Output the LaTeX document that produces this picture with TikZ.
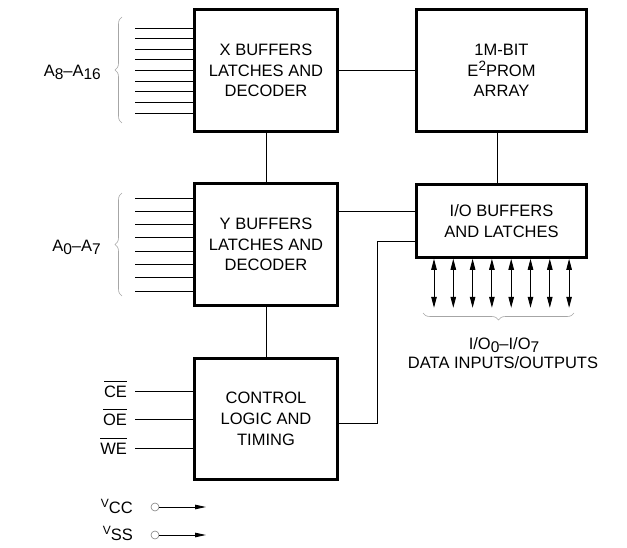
\documentclass[tikz,border=0pt]{standalone}
\usepackage{fontspec}
\setmainfont{Liberation Sans}
\usetikzlibrary{arrows.meta, positioning, calc, decorations.pathreplacing}
\newcommand{\lowsub}[1]{\raisebox{-3pt}{\fontsize{15.5}{15.5}\selectfont #1}}
\newcommand{\highsup}[1]{\raisebox{6pt}{\fontsize{13.5}{13.5}\selectfont #1}}
\newcommand{\ovl}[1]{$\overline{\mbox{\rule{0pt}{14pt}#1}}$}

\begin{document}
\begin{tikzpicture}[x=1pt, y=1pt,
  block/.style={draw, line width=2.6pt, align=center, inner sep=0pt, font=\fontsize{16.5}{20.7}\selectfont},
  wire/.style={line width=0.9pt},
  lbl/.style={font=\fontsize{16.5}{20.7}\selectfont, inner sep=0pt},
  bus/.style={draw=gray!70, line width=0.6pt, decorate, decoration={brace, amplitude=7pt}},
  pin/.style={circle, draw=gray, line width=0.6pt, minimum size=8pt, inner sep=0pt}
]
\useasboundingbox (0,0) rectangle (627,-548);

% blocks
\node[block, minimum width=143pt, minimum height=122pt] (xbuf) at (266,-70.5) {X BUFFERS\\LATCHES AND\\DECODER};
\node[block, minimum width=143pt, minimum height=122pt] (ybuf) at (266,-244.5) {Y BUFFERS\\LATCHES AND\\DECODER};
\node[block, minimum width=143pt, minimum height=121pt] (ctrl) at (266,-419) {CONTROL\\LOGIC AND\\TIMING};
\node[block, minimum width=170pt, minimum height=122pt] (array) at (501.5,-70.5) {1M-BIT\\E\highsup{2}PROM\\ARRAY};
\node[block, minimum width=170pt, minimum height=73pt] (iobuf) at (501.5,-221) {I/O BUFFERS\\AND LATCHES};

% internal connections
\draw[wire] (xbuf.east) -- (array.west);
\draw[wire] (xbuf.south) -- (ybuf.north);
\draw[wire] (ybuf.south) -- (ctrl.north);
\draw[wire] ([xshift=-4.5pt]array.south) -- ([xshift=-4.5pt]iobuf.north);
\draw[wire] ([yshift=10pt]iobuf.west) -- ([yshift=10pt]iobuf.west -| ybuf.east);
\coordinate (bend) at (377,-241);
\draw[wire] ([yshift=-4pt]ctrl.east) -| (bend) -- (bend -| iobuf.west);

% address inputs
\foreach \i in {0,...,8}
  \draw[wire] ([yshift=42.5pt-\i*10.625pt]xbuf.west) -- ++(-58,0);
\foreach \i in {0,...,7}
  \draw[wire] ([yshift=46.5pt-\i*13.286pt]ybuf.west) -- ++(-58,0);
\draw[bus] (122,-123) -- (122,-17);
\draw[bus] (122,-296) -- (122,-193);
\node[lbl, anchor=base east] (xaddr) at (101,-77) {A\lowsub{8}--A\lowsub{16}};
\node[lbl, anchor=base east] (yaddr) at (101,-251.5) {A\lowsub{0}--A\lowsub{7}};

% control inputs
\foreach \name/\dy/\txt in {ce/28/CE, oe/0/OE, we/-29/WE} {
  \coordinate (\name) at ([yshift=\dy pt]ctrl.west);
  \draw[wire] (\name) -- ++(-58,0) coordinate (\name end);
  \node[lbl, anchor=base east] at ([xshift=-8pt,yshift=-6pt]\name end) {\ovl{\txt}};
}

% data lines
\foreach \i in {0,...,7}
  \draw[wire, {Triangle[length=11pt,width=5.5pt]}-{Triangle[length=11pt,width=5.5pt]}]
    ([xshift=-67.5pt+\i*19.3pt]iobuf.south) -- ++(0,-49);
\draw[bus] (574,-313) -- (423,-313);
\node[lbl, anchor=base] (iolbl) at (504,-349) {I/O\lowsub{0}--I/O\lowsub{7}};
\node[lbl, anchor=base] (datalbl) at (503,-368) {DATA INPUTS/OUTPUTS};

% supply pins
\node[pin] (vcc) at (155,-507) {};
\node[pin] (vss) at (155,-535) {};
\coordinate (vccend) at (206,-507);
\coordinate (vssend) at (206,-535);
\draw[wire, -{Triangle[length=11pt,width=4.5pt]}] (vcc) -- (vccend);
\draw[wire, -{Triangle[length=11pt,width=4.5pt]}] (vss) -- (vssend);
\node[lbl, anchor=base east] (vcclbl) at (133,-513) {\raisebox{6pt}{\fontsize{12}{12}\selectfont V}CC};
\node[lbl, anchor=base east] (vsslbl) at (133,-540) {\raisebox{6pt}{\fontsize{12}{12}\selectfont V}SS};
\end{tikzpicture}
\end{document}
